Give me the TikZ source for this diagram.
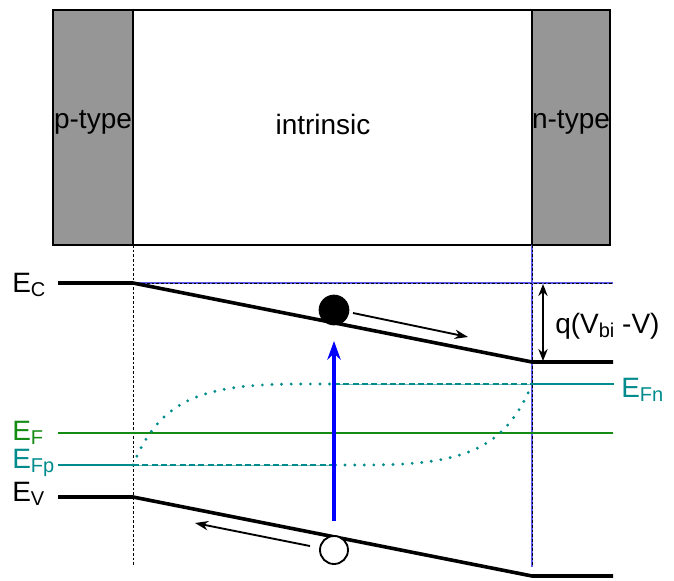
\documentclass[tikz,border=0pt]{standalone}
\usepackage{fontspec}
\setmainfont{Liberation Sans}
\usetikzlibrary{arrows.meta}
\definecolor{tealq}{RGB}{0,140,140}
\definecolor{tealqlight}{RGB}{120,190,190}
\definecolor{greenf}{RGB}{20,140,20}
\definecolor{grayfill}{RGB}{150,150,150}
\definecolor{guideblue}{RGB}{90,90,240}
\newcommand\mysub[1]{\raisebox{-3.5pt}{\fontsize{15}{15}\selectfont #1}}
\begin{document}
\begin{tikzpicture}[x=0.75pt,y=-0.75pt,
  lbl/.style={font=\fontsize{21}{25}\selectfont, inner sep=0pt},
  band/.style={line width=2.7pt, black},
  fermi/.style={line width=2.1pt, greenf},
  quasi/.style={line width=2.1pt, tealq},
  quasidash/.style={line width=2.1pt, tealq, dash pattern=on 4.5pt off 2.5pt},
  quasidot/.style={line width=2.4pt, tealq, line cap=round, dash pattern=on 0pt off 7.2pt},
  guide/.style={line width=0.7pt, black, dash pattern=on 2pt off 1.5pt},
  carrier/.style={line width=1.4pt, -{Stealth[length=10pt,width=7pt]}}
]
\useasboundingbox (0,0) rectangle (674,581);

% top device bar
\filldraw[fill=grayfill, draw=black, line width=1.3pt] (53,10) rectangle (133,245);
\filldraw[fill=grayfill, draw=black, line width=1.3pt] (532,10) rectangle (610,245);
\draw[line width=1.7pt] (53,10) rectangle (610,245);
\node[lbl] (ptype) at (93,122) {p-type};
\node[lbl] (intr) at (323,124) {intrinsic};
\node[lbl] (ntype) at (571,122) {n-type};

% key points
\coordinate (ecL0) at (58,283);
\coordinate (ecL) at (133,283);
\coordinate (ecR) at (532,362);
\coordinate (ecR1) at (613,362);
\coordinate (evL0) at (58,497);
\coordinate (evL) at (133,497);
\coordinate (evR) at (532,576);
\coordinate (evR1) at (613,576);
\coordinate (efL) at (58,433);
\coordinate (efR) at (613,433);
\coordinate (fpL0) at (58,465);
\coordinate (fpL) at (133,465);
\coordinate (fpM) at (334,465);
\coordinate (fnM) at (334,384);
\coordinate (fnR) at (532,384);
\coordinate (fnR1) at (614,384);
\coordinate (topR) at (613,283);
\coordinate (vL1) at (133,245);
\coordinate (vL2) at (133,567);
\coordinate (vR1) at (532,245);
\coordinate (vR2) at (532,567);

% guide lines
\draw[guide] (vL1) -- (vL2);
\draw[line width=0.9pt, guideblue] (vR1) -- (vR2);
\draw[guide] (vR1) -- (vR2);
\draw[line width=0.9pt, guideblue] (ecL) -- (topR);
\draw[guide] (ecL) -- (topR);

% bands
\draw[band] (ecL0) -- (ecL) -- (ecR) -- (ecR1);
\draw[band] (evL0) -- (evL) -- (evR) -- (evR1);
\draw[fermi] (efL) -- (efR);

% quasi Fermi levels
\draw[quasi] (fpL0) -- (fpL);
\draw[line width=0.7pt, tealqlight] (fpL) -- (fpM);
\draw[quasidash] (fpL) -- (fpM);
\draw[line width=0.7pt, tealqlight] (fnM) -- (fnR);
\draw[quasidash] (fnM) -- (fnR);
\draw[quasi] (fnR) -- (fnR1);
\draw[quasidot] (fpL) .. controls (160,400) and (200,384) .. (300,384) -- (fnM);
\draw[quasidot] (fnR) .. controls (505,449) and (465,465) .. (365,465) -- (fpM);

% q(Vbi - V)
\draw[line width=1.5pt, {Stealth[length=9pt,width=7pt]}-{Stealth[length=9pt,width=7pt]}] (543,284) -- (543,361);
\node[lbl, anchor=base west] (qlab) at (555,333) {q(V\mysub{bi} -V)};

% carriers
\coordinate (gen0) at (334,521);
\coordinate (gen1) at (334,341);
\draw[line width=3pt, blue, -{Stealth[length=14pt,width=10pt]}] (gen0) -- (gen1);
\node[circle, fill=black, minimum size=23pt, inner sep=0pt] (elec) at (334,310) {};
\node[circle, draw=black, fill=white, line width=1.4pt, minimum size=21pt, inner sep=0pt] (hole) at (334,550) {};
\coordinate (ea0) at (353,313);
\coordinate (ea1) at (468,337);
\draw[carrier] (ea0) -- (ea1);
\coordinate (ha0) at (310,546);
\coordinate (ha1) at (195,523);
\draw[carrier] (ha0) -- (ha1);

% energy labels
\node[lbl, anchor=base west] (lEC) at (12,292) {E\mysub{C}};
\node[lbl, anchor=base west, text=greenf] (lEF) at (12,440) {E\mysub{F}};
\node[lbl, anchor=base west, text=tealq] (lEFp) at (12,468) {E\mysub{Fp}};
\node[lbl, anchor=base west] (lEV) at (12,501) {E\mysub{V}};
\node[lbl, anchor=base west, text=tealq] (lEFn) at (621,397) {E\mysub{Fn}};
\end{tikzpicture}
\end{document}
